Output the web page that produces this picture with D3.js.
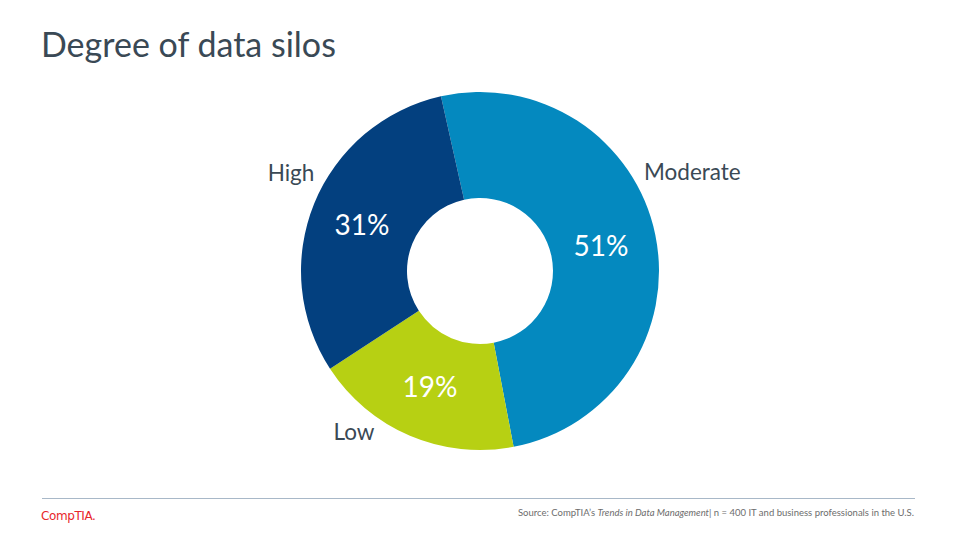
<!DOCTYPE html>
<html><head><meta charset="utf-8">
<script src="https://cdn.jsdelivr.net/npm/d3@7"></script>
<style>body{margin:0;background:#fff;} svg{display:block;}</style>
</head><body>
<svg id="c" width="960" height="540"></svg>
<script>
const categories = ["Moderate", "Low", "High"];
const values = [51, 19, 31];
const colors = ["#0489BF", "#B7D013", "#03407F"];
const title = "Degree of data silos";
const source = "Source: CompTIA\u2019s ";
const sourceItalic = "Trends in Data Management";
const sourceRest = "|  n = 400 IT and business  professionals  in the U.S.";

const svg = d3.select("#c");
const font = "Lato, 'Open Sans', sans-serif";
svg.append("text").attr("x", 41).attr("y", 57).attr("font-family", font)
  .attr("font-size", 34).attr("fill", "#3A4955").text(title);

const cx = 480, cy = 271, rO = 179, rI = 73;
const start = -12.6 * Math.PI / 180;
const pie = d3.pie().sort(null).startAngle(start).endAngle(start + 2 * Math.PI);
const arcs = pie(values);
const arc = d3.arc().innerRadius(rI).outerRadius(rO);
const g = svg.append("g").attr("transform", `translate(${cx},${cy})`);
g.selectAll("path").data(arcs).join("path").attr("d", arc).attr("fill", (d, i) => colors[i]);

const pctPos = [[601, 246], [430, 387], [362, 225]];
const lblPos = [[644, 172, "start"], [354, 432, "middle"], [291, 173, "middle"]];
arcs.forEach((a, i) => {
  svg.append("text").attr("x", pctPos[i][0]).attr("y", pctPos[i][1]).attr("dy", "0.35em")
    .attr("text-anchor", "middle").attr("font-family", font).attr("font-size", 28)
    .attr("fill", "#fff").text(values[i] + "%");
  svg.append("text").attr("x", lblPos[i][0]).attr("y", lblPos[i][1]).attr("dy", "0.35em")
    .attr("text-anchor", lblPos[i][2]).attr("font-family", font).attr("font-size", 22.5)
    .attr("fill", "#3A4955").text(categories[i]);
});

svg.append("line").attr("x1", 42).attr("x2", 915).attr("y1", 498.5).attr("y2", 498.5)
  .attr("stroke", "#A8B8C8").attr("stroke-width", 1);
svg.append("text").attr("x", 41).attr("y", 520).attr("font-family", "'DejaVu Sans', sans-serif")
  .attr("font-size", 12).attr("fill", "#E8262B")
  .attr("letter-spacing", "-0.4").text("CompTIA.");
const st = svg.append("text").attr("x", 914).attr("y", 516).attr("text-anchor", "end")
  .attr("font-family", font).attr("font-size", 9.5).attr("fill", "#6D6D6D");
st.append("tspan").text(source);
st.append("tspan").attr("font-style", "italic").text(sourceItalic);
st.append("tspan").text(sourceRest);
</script>
</body></html>
